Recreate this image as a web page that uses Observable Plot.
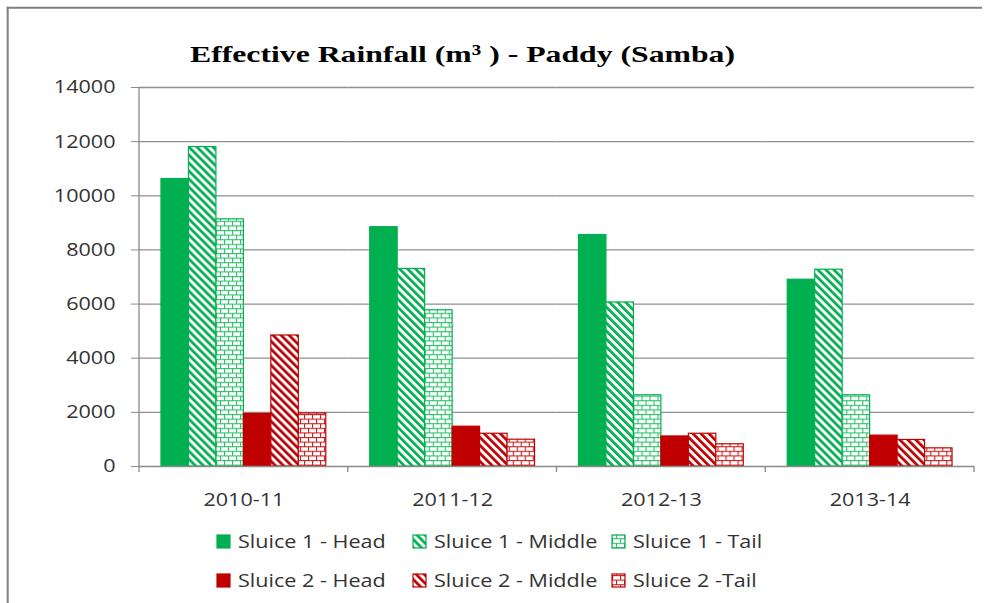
<!DOCTYPE html>
<html>
<head>
<meta charset="utf-8">
<script src="https://cdn.jsdelivr.net/npm/d3@7"></script>
<script src="https://cdn.jsdelivr.net/npm/@observablehq/plot@0.6"></script>
<style>
  body { margin: 0; background: #ffffff; overflow: hidden; }
  #chart { width: 986px; height: 603px; position: relative; }
</style>
</head>
<body>
<div id="chart"></div>
<script>
// ---------------- data ----------------
const years = ["2010-11", "2011-12", "2012-13", "2013-14"];
const seriesNames = ["Sluice 1 - Head", "Sluice 1 - Middle", "Sluice 1 - Tail",
                     "Sluice 2 - Head", "Sluice 2 - Middle", "Sluice 2 -Tail"];
const s1Head   = [10620, 8840, 8550, 6900];
const s1Middle = [11800, 7300, 6060, 7270];
const s1Tail   = [9130, 5770, 2630, 2630];
const s2Head   = [1940, 1470, 1110, 1140];
const s2Middle = [4840, 1210, 1210, 980];
const s2Tail   = [1960, 990, 820, 670];
const yTicks = [0, 2000, 4000, 6000, 8000, 10000, 12000, 14000];
const titleText = "Effective Rainfall (m\u00B3 ) - Paddy (Samba)";

// ---------------- build table ----------------
const seriesValues = [s1Head, s1Middle, s1Tail, s2Head, s2Middle, s2Tail];
const GREEN = "#00B050", RED = "#C00000";
const seriesStyle = [
  {fill: GREEN, stroke: GREEN},
  {fill: "url(#diag-g)", stroke: GREEN},
  {fill: "url(#brick-g)", stroke: GREEN},
  {fill: RED, stroke: RED},
  {fill: "url(#diag-r)", stroke: RED},
  {fill: "url(#brick-r)", stroke: RED}
];
const rows = [];
years.forEach((yr, i) => seriesNames.forEach((s, j) =>
  rows.push({year: yr, series: s, value: seriesValues[j][i]})));

const FONT = "'Open Sans', sans-serif";
const W = 986, H = 603, ML = 139, MR = 12, MT = 87, MB = 137;

const chart = Plot.plot({
  width: W, height: H,
  marginLeft: ML, marginRight: MR, marginTop: MT, marginBottom: MB,
  style: {fontFamily: FONT, fontSize: "18.5px", color: "#8c8c8c", background: "#ffffff"},
  fx: {domain: years, padding: 0, round: false, axis: "bottom", label: null, tickSize: 0, tickPadding: 26},
  x: {domain: seriesNames, paddingInner: 0, paddingOuter: 0.8, round: false, axis: null},
  y: {domain: [0, 14000], ticks: yTicks, tickSize: 8, tickPadding: 16, tickFormat: "d", label: null},
  marks: [
    Plot.ruleY(yTicks.filter(v => v > 0), {stroke: "#8f8f8f", strokeWidth: 1.3}),
    ...seriesNames.map((s, j) => Plot.barY(rows.filter(r => r.series === s), {
      fx: "year", x: "series", y: "value",
      fill: seriesStyle[j].fill, stroke: seriesStyle[j].stroke, strokeWidth: 1.2
    })),
    Plot.ruleY([0], {stroke: "#8a8a8a", strokeWidth: 1.5})
  ]
});

document.getElementById("chart").appendChild(chart);
const svg = d3.select(chart);

// ---------------- patterns ----------------
const defs = svg.insert("defs", ":first-child");
function diag(id, col) {
  const p = defs.append("pattern").attr("id", id).attr("patternUnits", "userSpaceOnUse")
    .attr("width", 5.66).attr("height", 5.66).attr("patternTransform", "rotate(-45)");
  p.append("rect").attr("width", 5.66).attr("height", 5.66).attr("fill", "#fff");
  p.append("rect").attr("width", 2.7).attr("height", 5.66).attr("fill", col);
}
function brick(id, col) {
  const p = defs.append("pattern").attr("id", id).attr("patternUnits", "userSpaceOnUse")
    .attr("width", 8).attr("height", 9.2);
  p.append("rect").attr("width", 8).attr("height", 9.2).attr("fill", "#fff");
  p.append("rect").attr("y", 0).attr("width", 8).attr("height", 1.1).attr("fill", col);
  p.append("rect").attr("y", 4.6).attr("width", 8).attr("height", 1.1).attr("fill", col);
  p.append("rect").attr("x", 0).attr("y", 0).attr("width", 1.1).attr("height", 4.6).attr("fill", col);
  p.append("rect").attr("x", 4).attr("y", 4.6).attr("width", 1.1).attr("height", 4.6).attr("fill", col);
}
diag("diag-g", GREEN); diag("diag-r", RED);
brick("brick-g", "#2cc06a"); brick("brick-r", "#cc2020");

// ---------------- axis lines & ticks ----------------
const yS = chart.scale("y");
const fxS = chart.scale("fx");
const y0 = yS.apply(0), yTop = yS.apply(14000);
const bw = fxS.bandwidth !== undefined ? fxS.bandwidth : (W - ML - MR) / years.length;
const bounds = years.map(yr => fxS.apply(yr));
bounds.push(bounds[bounds.length - 1] + bw);
const axisG = svg.append("g");
axisG.append("line").attr("x1", ML).attr("x2", ML).attr("y1", yTop).attr("y2", y0)
  .attr("stroke", "#8a8a8a").attr("stroke-width", 1.3);
bounds.forEach(bx => axisG.append("line").attr("x1", bx).attr("x2", bx)
  .attr("y1", y0).attr("y2", y0 + 6).attr("stroke", "#8a8a8a").attr("stroke-width", 1.3));

// outer frame (left and top edges only)
svg.append("line").attr("x1", 7.7).attr("x2", 7.7).attr("y1", 6.7).attr("y2", H)
  .attr("stroke", "#808080").attr("stroke-width", 2);
svg.append("line").attr("x1", 6.7).attr("x2", 982).attr("y1", 7.7).attr("y2", 7.7)
  .attr("stroke", "#808080").attr("stroke-width", 2);

// title
svg.append("text").attr("id", "title").attr("x", 462.5).attr("y", 62)
  .attr("text-anchor", "middle").attr("font-family", "'Liberation Serif', serif")
  .attr("font-weight", "bold").attr("font-size", 24).attr("fill", "#000")
  .text(titleText);

// legend
const legCols = [217, 413, 612];
const legRows = [548, 587];
const legend = svg.append("g").attr("text-anchor", "start");
seriesNames.forEach((s, j) => {
  const cx = legCols[j % 3], by = legRows[Math.floor(j / 3)];
  legend.append("rect").attr("x", cx).attr("y", by - 13).attr("width", 13).attr("height", 13)
    .attr("fill", seriesStyle[j].fill).attr("stroke", seriesStyle[j].stroke).attr("stroke-width", 1.2);
  legend.append("text").attr("class", "legtext").attr("x", cx + 21).attr("y", by)
    .attr("text-anchor", "start")
    .attr("font-family", FONT).attr("font-size", "18.5px").attr("fill", "#262626").text(s);
});

// text colours + horizontal stretch (reference text is wide)
svg.selectAll("text").filter(function() { return this.id !== "title"; }).attr("fill", "#333333");
const sample = legend.select("text.legtext").node();
const k = 147.7 / sample.getComputedTextLength();
svg.selectAll("text").each(function() {
  if (this.id === "title") return;
  const len = this.getComputedTextLength();
  if (len > 0) {
    this.setAttribute("textLength", (len * k).toFixed(2));
    this.setAttribute("lengthAdjust", "spacingAndGlyphs");
  }
});
const t = svg.select("#title").node();
t.setAttribute("textLength", 545);
t.setAttribute("lengthAdjust", "spacingAndGlyphs");
</script>
</body>
</html>
